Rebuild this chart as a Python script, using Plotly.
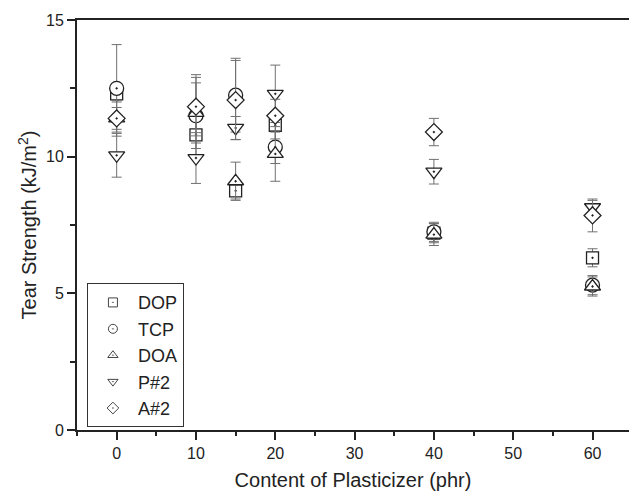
import plotly.graph_objects as go

# Plasticizer content (phr)
content = [0, 10, 15, 20, 40, 60]

# Tear strength (kJ/m^2) and standard deviations per plasticizer
dop = [12.3, 10.8, 8.75, 11.15, 7.2, 6.3]
dop_err = [0.3, 0.5, 0.3, 0.5, 0.35, 0.33]

tcp = [12.5, 11.5, 12.25, 10.35, 7.25, 5.3]
tcp_err = [1.6, 1.5, 1.35, 0.6, 0.35, 0.35]

doa = [11.4, 11.6, 9.1, 10.1, 7.15, 5.25]
doa_err = [0.4, 1.1, 0.7, 1.0, 0.4, 0.35]

p2 = [10.05, 9.95, 11.05, 12.3, 9.45, 8.15]
p2_err = [0.8, 0.93, 0.42, 1.05, 0.45, 0.25]

a2 = [11.4, 11.83, 12.07, 11.5, 10.9, 7.85]
a2_err = [0.65, 1.07, 1.45, 0.6, 0.5, 0.6]

series = [
    ("DOP", dop, dop_err, "square-dot", 12),
    ("TCP", tcp, tcp_err, "circle-dot", 14),
    ("DOA", doa, doa_err, "triangle-up-dot", 14),
    ("P#2", p2, p2_err, "triangle-down-dot", 14),
    ("A#2", a2, a2_err, "diamond-dot", 13),
]

FONT = "Arial, 'Liberation Sans', sans-serif"

fig = go.Figure()
for name, vals, errs, sym, size in series:
    fig.add_trace(go.Scatter(
        x=content, y=vals, mode="markers", name=name, showlegend=False,
        marker=dict(symbol=sym, size=size, color="white",
                    line=dict(color="#222", width=1.3)),
        error_y=dict(type="data", array=errs, visible=True,
                     color="#707070", thickness=1, width=5),
    ))

# Legend entries with smaller symbols
for name, vals, errs, sym, size in series:
    fig.add_trace(go.Scatter(
        x=[None], y=[None], mode="markers", name=name,
        marker=dict(symbol=sym, size=9, color="white",
                    line=dict(color="#444", width=1)),
    ))

fig.update_layout(
    width=629, height=494,
    margin=dict(l=77, r=0, t=20, b=64),
    paper_bgcolor="white", plot_bgcolor="white",
    font=dict(family=FONT, color="#222"),
    legend=dict(x=0.018, y=0.358, xanchor="left", yanchor="top",
                bordercolor="#333", borderwidth=1, bgcolor="white",
                font=dict(size=18, family=FONT, color="#222"),
                itemwidth=40, tracegroupgap=0),
    xaxis=dict(
        range=[-5, 64.6], tickmode="array", tickvals=[0, 10, 20, 30, 40, 50, 60],
        ticks="outside", ticklen=8, tickwidth=1.5, tickcolor="#222",
        showline=True, linecolor="#222", linewidth=2, mirror=True,
        showgrid=False, zeroline=False,
        tickfont=dict(size=16, family=FONT),
        minor=dict(dtick=5, tick0=5, ticks="outside", ticklen=4,
                   tickcolor="#222", tickwidth=1.5),
        title=dict(text="Content of Plasticizer (phr)",
                   font=dict(size=20, family=FONT), standoff=12),
    ),
    yaxis=dict(
        range=[0, 15], tickmode="array", tickvals=[0, 5, 10, 15],
        ticks="outside", ticklen=8, tickwidth=1.5, tickcolor="#222",
        showline=True, linecolor="#222", linewidth=2, mirror=False,
        showgrid=False, zeroline=False,
        tickfont=dict(size=16, family=FONT),
        minor=dict(dtick=2.5, ticks="outside", ticklen=5,
                   tickcolor="#222", tickwidth=1.5),
        title=dict(text="Tear Strength (kJ/m<sup>2</sup>)",
                   font=dict(size=20, family=FONT), standoff=4),
    ),
)

fig.write_html("out.html")
